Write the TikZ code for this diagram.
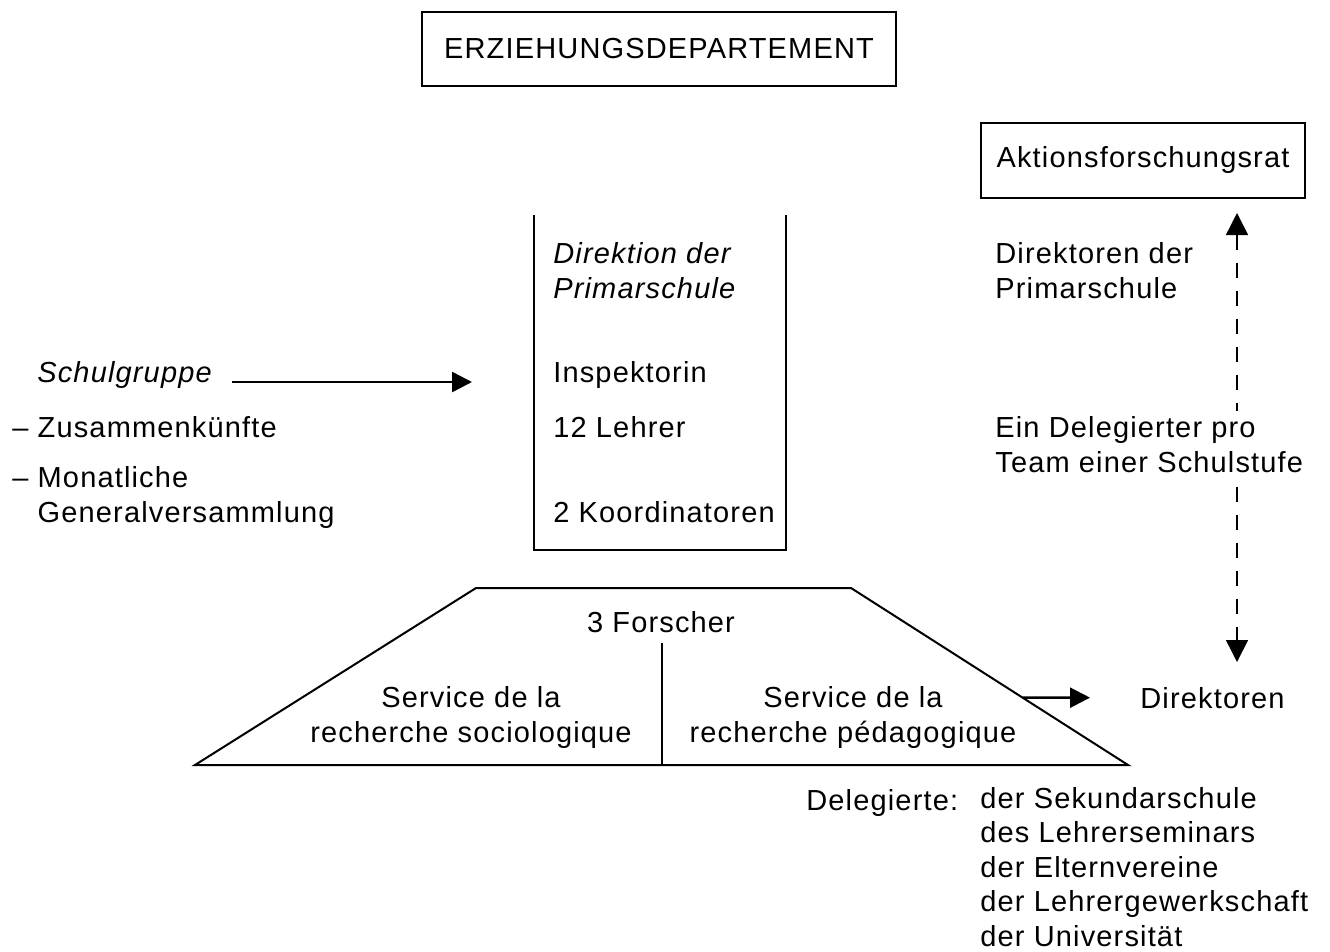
\documentclass[tikz,border=0pt]{standalone}
\usepackage{fontspec}
\setmainfont{Liberation Sans}[LetterSpace=4]
\usetikzlibrary{calc}
\usetikzlibrary{positioning}
\usetikzlibrary{arrows.meta}

\begin{document}
\begin{tikzpicture}[x=0.2mm, y=-0.2mm,
    txt/.style={font=\fontsize{16.5}{19.6}\selectfont, inner sep=0pt, align=left},
    box/.style={txt, draw, line width=0.4mm, align=center},
    frame/.style={line width=0.4mm},
    arr/.style={line width=0.5mm, -{Triangle[length=4mm, width=4mm]}},
    darr/.style={line width=0.3mm, dash pattern=on 3mm off 2.6mm,
      {Triangle[length=4.4mm, width=4.4mm]}-{Triangle[length=4.4mm, width=4.4mm]}}]
      \useasboundingbox (0,0) rectangle (1330,951);

      \node[box, minimum width=94.8mm, minimum height=14.8mm] (dept) at (659,49) {ERZIEHUNGSDEPARTEMENT};
      \node[box, minimum width=64.8mm, minimum height=15mm] (aktion) at (1143,160.5) {Aktionsforschungsrat};

      % Primarschule
      \draw[frame] (534,215) -- (534,550) -- (786,550) -- (786,215);
      \node[txt, anchor=base west] (direktion) at (553,298) {\itshape Direktion der\\\itshape Primarschule};
      \node[txt, anchor=base west] (insp) at (553,382) {Inspektorin};
      \node[txt, anchor=base west] (lehrer) at (553,437) {12 Lehrer};
      \node[txt, anchor=base west] (koord) at (553,522) {2 Koordinatoren};

      % Schulgruppe
      \node[txt, anchor=base west] (schul) at (37,382) {\itshape Schulgruppe};
      \node[txt, anchor=base west] (zusammen) at (12,437) {–~Zusammenkünfte};
      \node[txt, anchor=base west] (monat) at (12,522) {–~Monatliche\\\phantom{–~}Generalversammlung};
      \draw[arr] ([xshift=4mm]schul.base east) -- ([xshift=-16.2mm]insp.base west);

      % Forscher
      \coordinate (tl) at (476,588);
      \coordinate (tr) at (851,588);
      \coordinate (br) at (1128,765);
      \coordinate (bl) at (195,765);
      \coordinate (div) at (662,643);
      \draw[frame] (tl) -- (tr) -- (br) -- (bl) -- cycle;
      \draw[frame] (div) -- (div |- bl);
      \node[txt, anchor=base, align=center] (forscher) at (661,632) {3 Forscher};
      \node[txt, anchor=base, align=center] (socio) at (471,742) {Service de la\\recherche sociologique};
      \node[txt, anchor=base, align=center] (peda) at (853,742) {Service de la\\recherche pédagogique};

      % Direktoren
      \node[txt, anchor=base west] (dirprim) at (995,298) {Direktoren der\\Primarschule};
      \node[txt, anchor=base west] (dir) at (1140,708) {Direktoren};
      \coordinate (dtop) at (1237,213);
      \coordinate (dbot) at (1237,662);
      \draw[darr] (dtop) -- (dbot);
      \node[txt, anchor=base west, fill=white, inner ysep=1.2mm] (deleg) at (995,472) {Ein Delegierter pro\\Team einer Schulstufe};
      \draw[arr] ($(tr)!0.62!(br)$) -- ([xshift=-10mm]dir.west);

      \node[txt, anchor=base west] (delegierte) at (806,810) {Delegierte:};
      \node[txt, anchor=base west] (liste) at (980,946) {der Sekundarschule\\des Lehrerseminars\\der Elternvereine\\der Lehrergewerkschaft\\der Universität};
\end{tikzpicture}
\end{document}
